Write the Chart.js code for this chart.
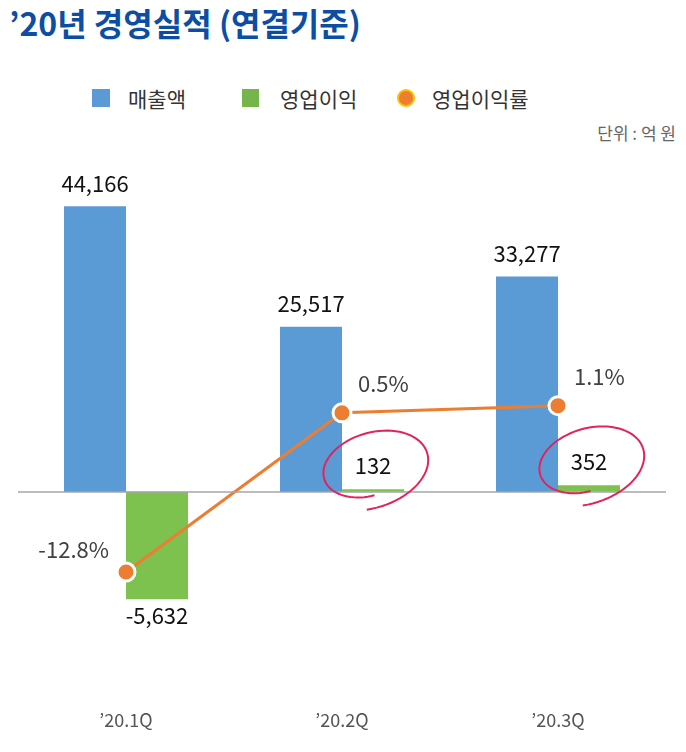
<!DOCTYPE html>
<html>
<head>
<meta charset="utf-8">
<script src="https://cdn.jsdelivr.net/npm/chart.js@4.4.1/dist/chart.umd.min.js"></script>
<style>
  html, body { margin:0; padding:0; background:#fff; }
  body { width:686px; height:752px; position:relative; overflow:hidden; font-family:"Noto Sans CJK KR","Noto Sans",sans-serif; }
  #title { position:absolute; left:9px; top:0px; font-size:32px; font-weight:700; color:#0b4ea4; white-space:nowrap; line-height:44px; }
  .lg { position:absolute; top:85px; font-size:21px; color:#333; white-space:nowrap; line-height:26px; }
  .sw { position:absolute; }
  #unit { position:absolute; right:10px; top:121px; font-size:17px; color:#666; white-space:nowrap; line-height:24px; }
  canvas { position:absolute; left:0; top:0; }
</style>
</head>
<body>
<div id="title">’20년 경영실적 (연결기준)</div>
<div class="sw" style="left:92px;top:89px;width:18px;height:18px;background:#5b9bd5"></div>
<div class="lg" style="left:128px">매출액</div>
<div class="sw" style="left:242px;top:89px;width:17px;height:18px;background:#75b549"></div>
<div class="lg" style="left:280px">영업이익</div>
<div class="sw" style="left:397px;top:89px;width:14px;height:14px;border-radius:50%;background:#ed7d31;border:2px solid #ffc000"></div>
<div class="lg" style="left:432px">영업이익률</div>
<div id="unit">단위 : 억 원</div>
<canvas id="c" width="686" height="752"></canvas>
<script>
// ---- data ----
const categories = ["’20.1Q", "’20.2Q", "’20.3Q"];
const sales = [44166, 25517, 33277];          // 매출액 (억 원)
const operatingProfit = [-5632, 132, 352];    // 영업이익 (억 원)
const operatingMargin = [-12.8, 0.5, 1.1];    // 영업이익률 (%)
const circled = [false, true, true];          // hand-drawn highlight on 영업이익 label

const FONT = '"Noto Sans CJK KR","Noto Sans",sans-serif';

const labelPlugin = {
  id: 'labels',
  afterDatasetsDraw(chart) {
    const ctx = chart.ctx;
    ctx.save();
    const y0 = chart.scales.y.getPixelForValue(0);
    ctx.strokeStyle = '#a6a6a6';
    ctx.lineWidth = 1.5;
    ctx.beginPath();
    ctx.moveTo(chart.chartArea.left, y0);
    ctx.lineTo(chart.chartArea.right, y0);
    ctx.stroke();

    ctx.font = '22px ' + FONT;
    ctx.textBaseline = 'middle';
    ctx.textAlign = 'center';
    ctx.fillStyle = '#111';
    const fmt = v => v.toLocaleString('en-US');
    chart.getDatasetMeta(0).data.forEach((el, i) => {
      ctx.fillText(fmt(sales[i]), el.x, el.y - 23);
    });
    chart.getDatasetMeta(1).data.forEach((el, i) => {
      const v = operatingProfit[i];
      const ly = v >= 0 ? el.y - 24 : el.y + 16;
      ctx.fillStyle = '#111';
      ctx.fillText(fmt(v), el.x, ly);
      if (circled[i]) {
        const cx = el.x - 2, cy = ly + 2;
        const rx = 53, ry = 34, rot = -0.28;
        ctx.strokeStyle = '#e2245c';
        ctx.lineWidth = 2;
        ctx.beginPath();
        const a0 = Math.PI / 2 + 0.1, a1 = Math.PI / 2 + 2 * Math.PI + 0.25;
        const n = 80;
        for (let k = 0; k <= n; k++) {
          const t = a0 + (a1 - a0) * k / n;
          const s = 0.82 + 0.38 * k / n;
          const px = Math.cos(t) * rx * s, py = Math.sin(t) * ry * s;
          const X = cx + px * Math.cos(rot) - py * Math.sin(rot);
          const Y = cy + px * Math.sin(rot) + py * Math.cos(rot);
          if (k === 0) ctx.moveTo(X, Y); else ctx.lineTo(X, Y);
        }
        ctx.stroke();
      }
    });
    ctx.fillStyle = '#404040';
    chart.getDatasetMeta(2).data.forEach((el, i) => {
      const v = operatingMargin[i];
      const txt = v.toFixed(1) + '%';
      if (v < 0) {
        ctx.textAlign = 'right';
        ctx.fillText(txt, el.x - 17, el.y - 22);
      } else {
        ctx.textAlign = 'left';
        ctx.fillText(txt, el.x + 16, el.y - 29);
      }
    });
    ctx.restore();
  }
};

new Chart(document.getElementById('c'), {
  data: {
    labels: categories,
    datasets: [
      { type: 'bar', label: '매출액', data: sales, yAxisID: 'y', backgroundColor: '#5b9bd5',
        categoryPercentage: 0.574, barPercentage: 1, order: 2 },
      { type: 'bar', label: '영업이익', data: operatingProfit, yAxisID: 'yG', backgroundColor: '#7dc14f',
        categoryPercentage: 0.574, barPercentage: 1, order: 2 },
      { type: 'line', label: '영업이익률', data: operatingMargin, yAxisID: 'yL',
        borderColor: '#ed7d31', borderWidth: 3, tension: 0,
        pointRadius: 9, pointHoverRadius: 9, pointBackgroundColor: '#ed7d31',
        pointBorderColor: '#ffffff', pointBorderWidth: 3, order: 0 }
    ]
  },
  options: {
    responsive: false,
    animation: false,
    devicePixelRatio: 1,
    layout: { padding: { top: 150, left: 18, right: 20, bottom: 16 } },
    plugins: { legend: { display: false }, tooltip: { enabled: false } },
    scales: {
      x: {
        grid: { display: false }, border: { display: false },
        ticks: { color: '#555', font: { size: 18, family: FONT }, padding: 5 }
      },
      y: { display: false, min: -31613, max: 52844 },
      yG: { display: false, min: -10737, max: 17947 },
      yL: { display: false, min: -23.19, max: 22.46 }
    }
  },
  plugins: [labelPlugin]
});
</script>
</body>
</html>
